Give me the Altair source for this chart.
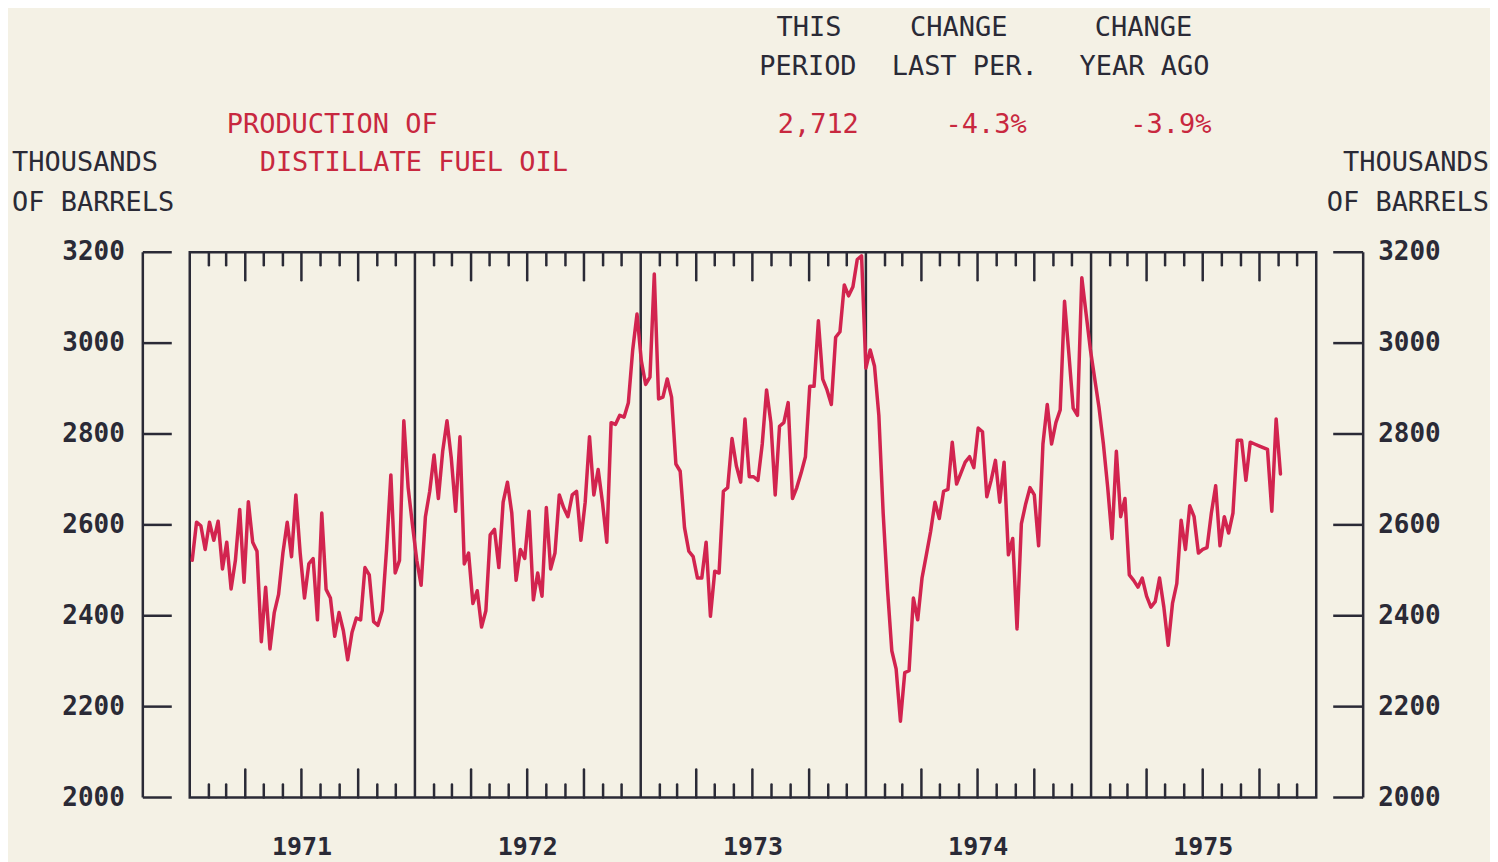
import altair as alt
import pandas as pd

# ---------------- data ----------------
years = [1971, 1972, 1973, 1974, 1975]
year_labels = ["1971", "1972", "1973", "1974", "1975"]

v1971 = [2522, 2606, 2598, 2546, 2606, 2566, 2608, 2503, 2562, 2459,
         2522, 2634, 2474, 2651, 2562, 2542, 2343, 2463, 2327, 2407,
         2447, 2538, 2606, 2530, 2666, 2538, 2439, 2514, 2526, 2391,
         2626, 2458, 2439, 2355, 2407, 2367, 2303, 2363, 2395, 2391,
         2506, 2490, 2387, 2379, 2411, 2546, 2710, 2494, 2522, 2829,
         2682, 2600]
v1972 = [2522, 2467, 2618, 2674, 2754, 2658, 2762, 2829, 2746, 2630,
         2794, 2514, 2538, 2427, 2455, 2375, 2411, 2578, 2590, 2506,
         2650, 2694, 2626, 2478, 2546, 2526, 2630, 2435, 2494, 2443,
         2638, 2503, 2538, 2666, 2638, 2618, 2666, 2674, 2566, 2650,
         2794, 2666, 2722, 2650, 2562, 2825, 2821, 2841, 2837, 2869,
         2985, 3064]
v1973 = [2961, 2909, 2925, 3152, 2877, 2881, 2921, 2881, 2734, 2718,
         2594, 2542, 2530, 2483, 2483, 2562, 2399, 2498, 2494, 2674,
         2682, 2790, 2730, 2694, 2833, 2706, 2706, 2698, 2778, 2897,
         2825, 2666, 2817, 2825, 2869, 2658, 2682, 2714, 2750, 2905,
         2905, 3049, 2921, 2897, 2865, 3013, 3025, 3128, 3104, 3124,
         3184, 3192]
v1974 = [2945, 2985, 2949, 2841, 2626, 2459, 2323, 2283, 2168, 2275,
         2279, 2439, 2391, 2483, 2534, 2586, 2650, 2614, 2674, 2678,
         2782, 2690, 2714, 2738, 2750, 2726, 2813, 2805, 2662, 2698,
         2742, 2650, 2738, 2534, 2570, 2371, 2602, 2646, 2682, 2666,
         2554, 2778, 2865, 2778, 2825, 2853, 3092, 2977, 2857, 2841,
         3144, 3064]
v1975 = [2985, 2921, 2857, 2778, 2682, 2570, 2762, 2618, 2658, 2490,
         2478, 2463, 2483, 2443, 2419, 2431, 2483, 2419, 2335, 2427,
         2471, 2610, 2546, 2642, 2618, 2538, 2546, 2550, 2626, 2686,
         2554, 2618, 2582, 2626, 2786, 2786, 2698, 2782, 2778, 2774,
         2770, 2766, 2630, 2833, 2712]

y_ticks = [2000, 2200, 2400, 2600, 2800, 3000, 3200]

stat_this_period = "2,712"
stat_change_last = "-4.3%"
stat_change_year = "-3.9%"

# ---------------- tables ----------------
values = v1971 + v1972 + v1973 + v1974 + v1975
dates = pd.date_range("1971-01-05", periods=len(values), freq="7D")
df = pd.DataFrame({"date": dates, "value": values})

div_df = pd.DataFrame({"date": pd.to_datetime([f"{y}-01-01" for y in years[1:]])})
months = pd.date_range("1971-02-01", "1975-12-01", freq="MS")
months = months[months.month != 1]
month_df = pd.DataFrame({"date": months, "quarter": [m in (4, 7, 10) for m in months.month]})
year_df = pd.DataFrame({"date": pd.to_datetime([f"{y}-07-02" for y in years]), "label": year_labels})
ytick_df = pd.DataFrame({"value": y_ticks})
one = pd.DataFrame({"a": [0]})

# ---------------- style ----------------
W, H = 1128, 546
BG = "#f4f1e5"
INK = "#2a2a36"
RED = "#c8283f"
LINE = "#d2244f"
FONT = "DejaVu Sans Mono"

xscale = alt.Scale(domain=[alt.DateTime(year=1971, month=1, date=1),
                           alt.DateTime(year=1976, month=1, date=1)])
yscale = alt.Scale(domain=[2000, 3200], nice=False, zero=False)

X = alt.X("date:T", scale=xscale, axis=None)
Y = alt.Y("value:Q", scale=yscale, axis=None)

line = alt.Chart(df).mark_line(color=LINE, strokeWidth=3.5, strokeJoin="round",
                               strokeCap="round").encode(x=X, y=Y)

dividers = alt.Chart(div_df).mark_rule(color=INK, strokeWidth=2.5).encode(
    x=X, y=alt.value(0), y2=alt.value(H))

SHORT, LONG = 13, 28
tick_kw = dict(color=INK, strokeWidth=2.5, strokeCap="round")
top_short = alt.Chart(month_df).transform_filter("!datum.quarter").mark_rule(**tick_kw).encode(
    x=X, y=alt.value(0), y2=alt.value(SHORT))
top_long = alt.Chart(month_df).transform_filter("datum.quarter").mark_rule(**tick_kw).encode(
    x=X, y=alt.value(0), y2=alt.value(LONG))
bot_short = alt.Chart(month_df).transform_filter("!datum.quarter").mark_rule(**tick_kw).encode(
    x=X, y=alt.value(H), y2=alt.value(H - SHORT))
bot_long = alt.Chart(month_df).transform_filter("datum.quarter").mark_rule(**tick_kw).encode(
    x=X, y=alt.value(H), y2=alt.value(H - LONG))

year_text = alt.Chart(year_df).mark_text(font=FONT, fontSize=25, fontWeight="bold", color=INK,
                                         baseline="middle", align="center").encode(
    x=X, y=alt.value(H + 50), text="label:N")

# left axis
LAX = -47
left_line = alt.Chart(one).mark_rule(color=INK, strokeWidth=2.5).encode(
    x=alt.value(LAX), y=alt.value(0), y2=alt.value(H))
left_ticks = alt.Chart(ytick_df).mark_rule(color=INK, strokeWidth=2.5).encode(
    y=Y, x=alt.value(LAX), x2=alt.value(-18))
left_labels = alt.Chart(ytick_df).mark_text(font=FONT, fontSize=26, fontWeight="bold", color=INK,
                                            align="right", baseline="middle").encode(
    y=Y, x=alt.value(-65), text=alt.Text("value:Q", format="d"))

# right axis
RAX = 1175
right_line = alt.Chart(one).mark_rule(color=INK, strokeWidth=2.5).encode(
    x=alt.value(RAX), y=alt.value(0), y2=alt.value(H))
right_ticks = alt.Chart(ytick_df).mark_rule(color=INK, strokeWidth=2.5).encode(
    y=Y, x=alt.value(1145), x2=alt.value(RAX))
right_labels = alt.Chart(ytick_df).mark_text(font=FONT, fontSize=26, fontWeight="bold", color=INK,
                                             align="left", baseline="middle").encode(
    y=Y, x=alt.value(1190), text=alt.Text("value:Q", format="d"))


def label(text, x, y, color=INK, align="left", size=27):
    return alt.Chart(one).mark_text(text=text, font=FONT, fontSize=size, color=color,
                                    align=align, baseline="middle").encode(
        x=alt.value(x), y=alt.value(y))


texts = [
    label("THIS", 620, -225, align="center"),
    label("PERIOD", 619, -185, align="center"),
    label("CHANGE", 770, -225, align="center"),
    label("LAST PER.", 776, -185, align="center"),
    label("CHANGE", 955, -225, align="center"),
    label("YEAR AGO", 956, -185, align="center"),
    label(stat_this_period, 670, -127, color=RED, align="right"),
    label(stat_change_last, 838, -127, color=RED, align="right"),
    label(stat_change_year, 1023, -127, color=RED, align="right"),
    label("PRODUCTION OF", 37, -127, color=RED),
    label("DISTILLATE FUEL OIL", 70, -89, color=RED),
    label("THOUSANDS", -178, -89),
    label("OF BARRELS", -178, -49),
    label("THOUSANDS", 1301, -89, align="right"),
    label("OF BARRELS", 1301, -49, align="right"),
]

chart = alt.layer(
    dividers, top_short, top_long, bot_short, bot_long,
    left_line, left_ticks, left_labels, right_line, right_ticks, right_labels,
    year_text, line, *texts
).properties(
    width=W, height=H,
    padding={"left": 182, "top": 244, "right": 174, "bottom": 64},
    autosize=alt.AutoSizeParams(type="none"),
).configure(background=BG).configure_view(stroke=INK, strokeWidth=2.5)

chart.save("out.html", embed_options={"renderer": "svg", "actions": False})
